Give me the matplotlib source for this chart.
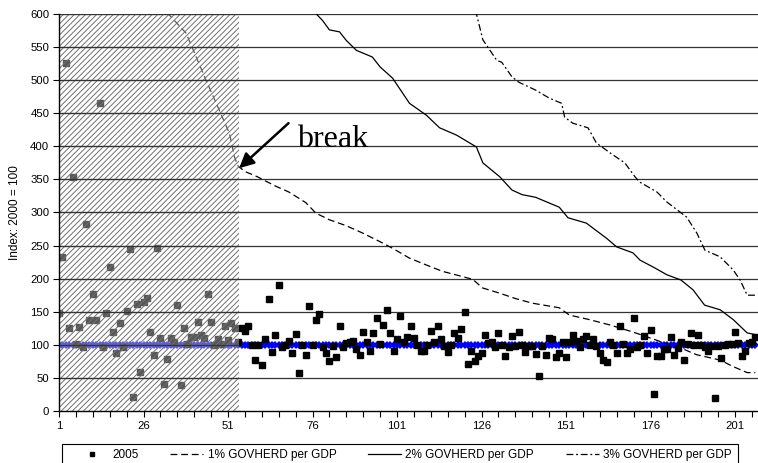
import matplotlib
matplotlib.use("Agg")
import matplotlib.pyplot as plt
from matplotlib.patches import Rectangle
import numpy as np

plt.rcParams["font.family"] = ["Liberation Sans", "DejaVu Sans"]
plt.rcParams["hatch.linewidth"] = 0.7

# index values of the 2005 series, one per category 1..207
vals_2005 = [
    148, 233, 526, 125, 354, 101, 127, 97, 283, 137,
    177, 137, 465, 97, 148, 218, 120, 88, 133, 97,
    151, 245, 21, 162, 59, 165, 171, 120, 85, 247,
    111, 41, 78, 111, 105, 160, 40, 125, 101, 112,
    112, 134, 115, 111, 177, 134, 100, 109, 101, 128,
    107, 133, 125, 105, 126, 121, 128, 100, 77, 100,
    69, 109, 170, 89, 115, 191, 96, 100, 106, 88,
    117, 58, 100, 84, 158, 100, 137, 147, 96, 87,
    76, 98, 81, 128, 96, 103, 104, 106, 93, 85,
    119, 105, 91, 118, 140, 101, 130, 152, 118, 91,
    109, 143, 104, 112, 128, 110, 100, 90, 90, 100,
    121, 105, 129, 109, 98, 89, 100, 118, 111, 124,
    149, 71, 91, 75, 83, 88, 115, 103, 105, 96,
    118, 100, 83, 96, 113, 98, 119, 100, 89, 98,
    98, 86, 53, 98, 85, 110, 109, 82, 88, 104,
    81, 105, 115, 106, 96, 109, 113, 100, 109, 98,
    88, 77, 74, 104, 100, 87, 129, 101, 87, 93,
    140, 96, 100, 113, 88, 122, 25, 83, 83, 94,
    94, 112, 85, 95, 104, 77, 101, 118, 100, 115,
    100, 96, 91, 98, 19, 98, 80, 100, 102, 101,
    119, 103, 83, 90, 103, 104, 112,
]
idx = np.arange(1, len(vals_2005) + 1)
base_2000 = [100] * len(vals_2005)

# GOVHERD scenario paths (category, index)
pct1_x = [33, 38.6, 44.5, 51.4, 52.3, 52.9, 54, 56, 59.7, 65, 69, 74, 77, 81, 86,
          90.8, 96.7, 100, 104.7, 110, 114.5, 119, 123.4, 126.3, 131.4, 136, 141,
          149, 152, 158, 164, 171, 175, 180, 185, 189.7, 196.6, 200.5, 204.6, 207]
pct1_y = [602, 571, 500, 420, 399, 384, 370, 362, 354, 340, 331, 315, 299, 289, 280,
          269, 254, 245, 231, 220, 211, 205, 199, 186, 178, 170, 163,
          156, 145, 138, 130, 119, 112, 103, 95, 85, 77, 67, 58, 58]

pct2_x = [76.9, 77.5, 79, 81, 84, 86, 89, 93.7, 96, 99.7, 104.7, 109.7, 113.6, 118.6,
          124.5, 126.4, 131.4, 135, 138, 142, 149, 151.6, 157, 163, 166, 170.8, 172.9,
          177, 180.8, 185, 188.6, 192, 196.6, 200.5, 204.6, 207.5]
pct2_y = [602, 598, 590, 576, 573, 560, 545, 535, 520, 503, 465, 447, 428, 417,
          399, 375, 354, 334, 327, 323, 308, 292, 284, 261, 248, 239, 228,
          217, 206, 198, 183, 160, 153, 138, 118, 115]

pct3_x = [123.4, 124.5, 126.4, 130.5, 132, 135, 137, 142, 146, 149.7, 150.6, 153, 157.5,
          160, 164.9, 168.4, 171.4, 172.8, 177.9, 180.8, 186.7, 189.7, 192.1, 196.6,
          200.5, 202.5, 204.6, 207]
pct3_y = [602, 600, 561, 530, 527, 505, 497, 485, 473, 465, 444, 435, 428,
          405, 387, 375, 354, 346, 331, 316, 293, 269, 243, 233,
          213, 198, 175, 175]

W, H = 758, 463
fig = plt.figure(figsize=(W / 100, H / 100), dpi=100)
ax = fig.add_axes([59 / W, 1 - 411 / H, 1 - 59 / W, 397 / H])

ax.plot(idx, base_2000, color="#0000ff", lw=2.6, marker="D", ms=3.8, mew=0, zorder=3)
ax.plot(idx, vals_2005, "s", ms=4.8, color="black", label="2005", zorder=4)
ax.plot(pct1_x, pct1_y, color="black", lw=0.9, dashes=(5.5, 3),
        label="1% GOVHERD per GDP", zorder=4)
ax.plot(pct2_x, pct2_y, color="black", lw=0.9, label="2% GOVHERD per GDP", zorder=4)
ax.plot(pct3_x, pct3_y, color="black", lw=0.9, dashes=(5.5, 2.2, 1.5, 2.2),
        label="3% GOVHERD per GDP", zorder=4)

# hatched pre-break period laid over the data
ax.add_patch(Rectangle((1, 0), 53.4, 600, facecolor=(1, 1, 1, 0.35),
                       edgecolor="#707070", hatch="//////", lw=0, zorder=5))

ax.set_xlim(1, 207.8)
ax.set_ylim(0, 600)
yt = list(range(0, 601, 50))
ax.set_yticks(yt)
ax.set_yticklabels([str(v) for v in yt])
for v in yt[1:]:
    ax.axhline(v, color="#333333", lw=0.9, zorder=2)
    ax.hlines(v, 1, 54.4, color="#333333", lw=0.9, zorder=6)

xt = list(range(1, 208, 5))
ax.set_xticks(xt)
ax.set_xticklabels([str(v) if (v - 1) % 25 == 0 else "" for v in xt])
ax.tick_params(direction="out", length=4, width=0.8, labelsize=8.2, pad=3)

for side in ("top", "right"):
    ax.spines[side].set_visible(False)
for side in ("left", "bottom"):
    ax.spines[side].set_linewidth(1)
    ax.spines[side].set_zorder(7)

ax.set_ylabel("Index: 2000 = 100", fontsize=8.5)
ax.yaxis.set_label_coords(-38 / 699, 0.5)

ax.annotate("", xy=(54.3, 367), xytext=(68.9, 435),
            arrowprops=dict(arrowstyle="-|>", lw=1.8, color="black",
                            mutation_scale=22, shrinkA=0, shrinkB=0), zorder=8)
ax.text(71.5, 399, "break", fontfamily="Liberation Serif", fontsize=23,
        va="baseline", ha="left", zorder=8)

# legend box along the bottom edge
fig.add_artist(Rectangle((62 / W, -0.01), 676 / W, 0.01 + 19 / H,
                         transform=fig.transFigure, facecolor="none",
                         edgecolor="black", lw=0.8))
fig.legend(loc="center left", ncol=4, bbox_to_anchor=(75 / W, 1 - 455 / H),
           fontsize=8.5, frameon=False, handlelength=2.8, handletextpad=0.35,
           columnspacing=2.7, markerscale=0.75, borderpad=0, borderaxespad=0)

fig.savefig("out.png", dpi=100)
